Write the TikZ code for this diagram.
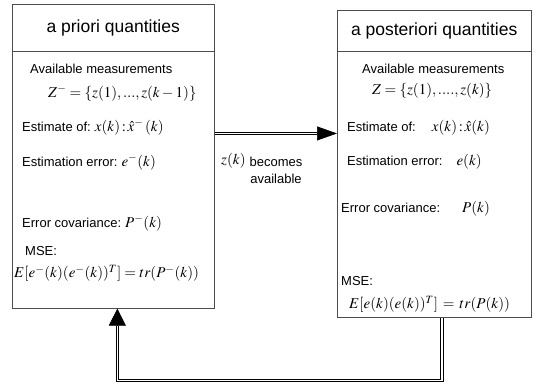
\documentclass[tikz,border=0pt]{standalone}
\usepackage{mathptmx}
\usepackage[no-math]{fontspec}
\setmainfont{Liberation Sans}
\usepackage{tikz}
\usetikzlibrary{arrows.meta, positioning, calc}
\newcommand{\formula}[1]{{\fontsize{15}{18}\selectfont$#1$}}
\tikzstyle{panel} = [rectangle, draw=black!70, line width=0.6pt, anchor=north west, inner sep=0pt]
\tikzstyle{heading} = [rectangle, anchor=north west, inner sep=0pt, font=\fontsize{17.5}{20}\selectfont]
\tikzstyle{entry} = [anchor=west, inner sep=0pt, font=\fontsize{13}{15}\selectfont]
\tikzstyle{note} = [align=center, inner sep=0pt, font=\fontsize{13}{17}\selectfont]
\tikzstyle{divider} = [draw=black!70, line width=0.6pt]
\tikzstyle{flow} = [draw=black, line width=0.8pt, double=white, double distance=1.6pt]
\tikzstyle{flowtip} = [line width=0.6pt, -{Triangle[length=20pt, width=14pt]}]

\begin{document}
\begin{tikzpicture}[x=1pt, y=-1pt]
  \useasboundingbox (0,0) rectangle (545,387);
  % the two boxes
  \node[panel, minimum width=202pt, minimum height=304pt] (prior) at (12,4) {};
  \node[panel, minimum width=194pt, minimum height=307pt] (post) at (337,10) {};
  \node[heading, minimum width=202pt, minimum height=47pt] (priorTitle) at (prior.north west) {a priori quantities};
  \node[heading, minimum width=194pt, minimum height=41pt] (postTitle) at (post.north west) {a posteriori quantities};
  \draw[divider] (priorTitle.south west) -- (priorTitle.south east);
  \draw[divider] (postTitle.south west) -- (postTitle.south east);

  % a priori
  \node[entry] (priorMeas) at (30,69) {Available measurements};
  \node[entry] (priorZ) at (48,93) {\formula{Z^{-}=\{z(1),...,z(k-1)\}}};
  \node[entry] (priorEst) at (22,127) {Estimate of:\hspace{4pt}\formula{x(k)\,{:}\,\hat{x}^{-}\,(k)}};
  \node[entry] (priorErr) at (22,162) {Estimation error:\hspace{4pt}\formula{e^{-}(k)}};
  \node[entry] (priorCov) at (22,223) {Error covariance:\hspace{4pt}\formula{P^{-}(k)}};
  \node[entry] (priorMSE) at (25,251) {MSE:};
  \node[entry] (priorE) at (14,273) {\formula{E[e^{-}(k)(e^{-}(k))^{T}]=tr(P^{-}(k))}};

  % a posteriori
  \node[entry] (postMeas) at (362,69) {Available measurements};
  \node[entry] (postZ) at (372,91) {\formula{Z=\{z(1),....,z(k)\}}};
  \node[entry] (postEst) at (347,128) {Estimate of:\hspace{16pt}\formula{x(k)\,{:}\,\hat{x}(k)}};
  \node[entry] (postErr) at (347,162) {Estimation error:\hspace{14pt}\formula{e(k)}};
  \node[entry] (postCov) at (341,209) {Error covariance:\hspace{22pt}\formula{P(k)}};
  \node[entry] (postMSE) at (341,281) {MSE:};
  \node[entry] (postE) at (349,304) {\formula{E[e(k)(e(k))^{T}]\,=\,tr(P(k))}};

  % measurement update
  \coordinate (send) at ($(prior.north east)!0.425!(prior.south east)$);
  \draw[flow, shorten >=20pt] (send) -- (send -| post.west);
  \draw[flowtip] ($(send -| post.west)+(-20pt,0)$) -- (send -| post.west);
  \node[entry] (zk) at (221,161) {\formula{z(k)}};
  \node[note] (avail) at (276,170) {becomes\\available};

  % time update
  \coordinate (back) at ($(post.south west)!0.54!(post.south east)$);
  \coordinate (ahead) at ($(prior.south west)!0.52!(prior.south east)$);
  \draw[flow, shorten >=17pt] (back) -- ++(0,-63pt) -| (ahead);
  \draw[flowtip, -{Triangle[length=17pt, width=17pt]}] ($(ahead)+(0,-17pt)$) -- (ahead);
\end{tikzpicture}
\end{document}
